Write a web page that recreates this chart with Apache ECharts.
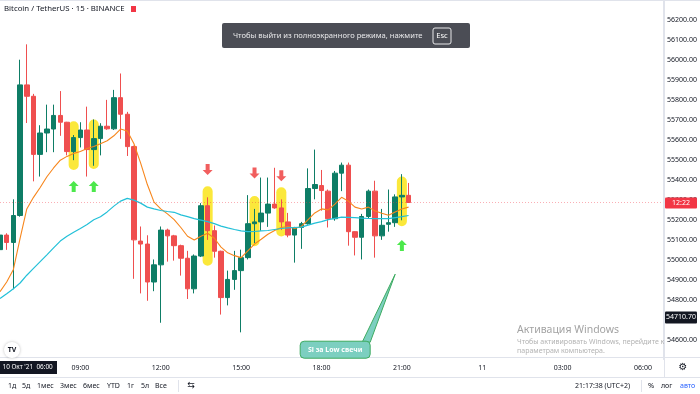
<!DOCTYPE html>
<html><head><meta charset="utf-8">
<script src="https://cdn.jsdelivr.net/npm/echarts@6/dist/echarts.min.js"></script>
<style>html,body{margin:0;padding:0;background:#fff}#c{width:700px;height:394px}</style>
</head><body><div id="c"></div>
<script>
// ---------- DATA ----------
// candles: [open, close, low, high], 15-minute bars starting 10 Oct '21 06:00
const ohlc = [
[55050,55123,55034,55254],[55123,55086,55049,55132],[55086,55221,54852,55302],[55221,55875,55215,56001],
[55875,55818,55684,56078],[55818,55527,55392,55830],[55527,55634,55416,55673],[55634,55654,55538,55776],
[55654,55722,55538,55776],[55722,55688,55620,55844],[55688,55541,55522,55690],[55541,55611,55498,55624],
[55611,55649,55562,55688],[55649,55551,55416,55766],[55551,55606,55470,55702],[55606,55668,55522,55683],
[55668,55655,55650,55800],[55655,55811,55649,55850],[55811,55728,55605,55932],[55728,55566,55519,55740],
[55566,55099,54904,55571],[55093,55078,54831,55166],[55078,54888,54794,55122],[54888,54974,54842,55001],
[54974,55148,54684,55166],[55148,55119,54990,55155],[55119,55070,54995,55124],[55070,55007,54920,55075],
[55007,54854,54803,55044],[54854,55018,54831,55026],[55018,55270,55013,55283],[55270,55145,55099,55312],
[55145,55042,55010,55171],[55042,54810,54725,55045],[54810,54901,54771,54945],[54901,54945,54849,55044],
[54945,55010,54636,55050],[55010,55180,55001,55323],[55180,55189,55083,55254],[55189,55233,55145,55411],
[55233,55278,55164,55411],[55278,55259,55255,55460],[55259,55189,55148,55302],[55189,55123,55112,55234],
[55123,55161,54985,55164],[55161,55180,55054,55189],[55180,55356,55175,55457],[55356,55376,55302,55551],
[55371,55346,55245,55449],[55343,55205,55161,55351],[55205,55433,55195,55444],[55433,55473,55343,55486],
[55473,55140,55070,55486],[55140,55112,55021,55142],[55112,55216,55001,55229],[55216,55343,55205,55351],
[55343,55119,55010,55395],[55119,55172,55099,55254],[55177,55185,55140,55351],[55185,55314,55164,55327],
[55314,55322,55197,55428],[55322,55286,55286,55384]
];
// fast moving average (orange)
const maFast = [54839,54888,54951,55107,55254,55312,55361,55415,55459,55498,55517,55532,55541,55556,55566,55580,
55595,55620,55654,55644,55580,55483,55376,55288,55254,55229,55200,55161,55117,55098,55117,55132,55107,55063,
55034,55020,55010,55044,55078,55102,55127,55146,55161,55166,55156,55166,55200,55234,55254,55249,55278,55312,
55293,55263,55254,55263,55244,55232,55222,55239,55254,55263];
// slow moving average (cyan)
const maSlow = [54805,54829,54854,54883,54922,54956,54990,55024,55059,55093,55117,55137,55156,55176,55200,55215,
55239,55268,55293,55307,55298,55283,55263,55254,55246,55241,55237,55224,55215,55205,55198,55190,55180,55168,
55159,55151,55144,55140,55141,55144,55146,55151,55156,55159,55161,55163,55173,55183,55190,55200,55207,55213,
55212,55210,55208,55206,55205,55205,55205,55210,55215,55221];
// yellow highlighter marks: [candle index, top price, bottom price]
const highlights = [[11,55693,55449],[14,55702,55454],[31,55367,54969],[38,55319,55067],[42,55362,55116],[60,55416,55167]];
// arrows: [candle index, price]
const upArrows = [[11,55366],[14,55366],[60,55071]];
const downArrows = [[31,55451],[38,55434],[42,55420]];
const calloutTip = [59, 54927];
const calloutText = 'Sl за Low свечи';
const lastPrice = 55286;
const crossPrice = 54710.70;
const tickIndexes = [12,24,36,48,60,72,84,96];
const tickLabels = ['09:00','12:00','15:00','18:00','21:00','11','03:00','06:00'];
const totalSlots = 100;
const categories = [];
for (let i = 0; i < totalSlots; i++) {
  const m = 6*60 + 15*i, h = Math.floor(m/60)%24, mm = m%60;
  categories.push(String(h).padStart(2,'0') + ':' + String(mm).padStart(2,'0'));
}
// ---------- CHART ----------
const FONT = 'Noto Sans';
const UP = '#0e7d66', DOWN = '#ef4f4f';
const chart = echarts.init(document.getElementById('c'), null, {renderer:'canvas'});
chart.setOption({
  animation:false,
  textStyle:{fontFamily:FONT},
  grid:{left:0, right:35.7, top:-9.5, bottom:34.5, containLabel:false},
  xAxis:{type:'category', data:categories, boundaryGap:false, z:100,
    axisLine:{show:false}, axisTick:{show:false}, splitLine:{show:false},
    axisLabel:{interval:(idx)=>tickIndexes.indexOf(idx)>=0, formatter:(v,idx)=>tickLabels[tickIndexes.indexOf(idx)],
      fontSize:7, color:'#131722', margin:5, fontFamily:FONT}},
  yAxis:{type:'value', position:'right', min:54500, max:56300, interval:100, scale:true,
    axisLine:{show:true, lineStyle:{color:'#e0e3eb'}}, axisTick:{show:false}, splitLine:{show:false},
    axisLabel:{formatter:(v)=>v.toFixed(2), fontSize:7, color:'#131722', margin:4, showMinLabel:false, showMaxLabel:false, fontFamily:FONT}},
  series:[
    {type:'custom', z:1, data:highlights, encode:{x:0, y:[1,2]},
      renderItem:(params, api)=>{
        const a = api.coord([api.value(0), api.value(1)]);
        const b = api.coord([api.value(0), api.value(2)]);
        const w = api.size([1,0])[0]*1.5;
        return {type:'rect', shape:{x:a[0]-w/2, y:a[1], width:w, height:b[1]-a[1], r:w/2}, style:{fill:'#fbe83b'}};
      }},
    {type:'candlestick', z:2, data:ohlc, barWidth:5,
      itemStyle:{color:UP, color0:DOWN, borderColor:UP, borderColor0:DOWN, borderWidth:1},
      markLine:{silent:true, symbol:'none', label:{show:false},
        lineStyle:{color:'rgba(242,54,69,0.4)', type:[1,2], width:1}, data:[{yAxis:lastPrice}]}},
    {type:'line', z:3, data:maFast, symbol:'none', smooth:false, lineStyle:{color:'#f7861c', width:1.1}},
    {type:'line', z:3, data:maSlow, symbol:'none', smooth:false, lineStyle:{color:'#22c0d8', width:1.2}},
    {type:'scatter', z:4, data:upArrows, symbol:'path://M5,0 L10,5 L7,5 L7,11 L3,11 L3,5 L0,5 Z', symbolSize:[10,11],
      itemStyle:{color:'#1fe21f'}},
    {type:'scatter', z:4, data:downArrows, symbol:'path://M3,0 L7,0 L7,6 L10,6 L5,11 L0,6 L3,6 Z', symbolSize:[10,11],
      itemStyle:{color:'#ee3636'}}
  ]
});
// ---------- ANNOTATIONS / UI ----------
const tip = chart.convertToPixel({xAxisIndex:0, yAxisIndex:0}, calloutTip);
const yLast = chart.convertToPixel({yAxisIndex:0}, lastPrice);
const yCross = chart.convertToPixel({yAxisIndex:0}, crossPrice);
const bx = tip[0]-95, by = tip[1]+67;
const g = [];
g.push({type:'line', shape:{x1:0,y1:0.5,x2:700,y2:0.5}, style:{stroke:'#e0e3eb', lineWidth:1}, z:50});
g.push({type:'line', shape:{x1:0,y1:357.5,x2:700,y2:357.5}, style:{stroke:'#e0e3eb', lineWidth:1}, z:50});
g.push({type:'line', shape:{x1:0,y1:377.5,x2:700,y2:377.5}, style:{stroke:'#e0e3eb', lineWidth:1}, z:50});
g.push({type:'line', shape:{x1:664.5,y1:0,x2:664.5,y2:378}, style:{stroke:'#e0e3eb', lineWidth:1}, z:50});
g.push({type:'text', x:4, y:9, style:{text:'Bitcoin / TetherUS · 15 · BINANCE', fill:'#131722', font:'7.8px "Noto Sans"', textVerticalAlign:'middle'}, z:60});
g.push({type:'rect', shape:{x:131, y:6, width:5, height:6}, style:{fill:'#f23645'}, z:60});
g.push({type:'rect', shape:{x:222, y:23, width:248, height:25, r:2}, style:{fill:'rgba(60,62,70,0.92)'}, z:60});
g.push({type:'text', x:233, y:36, style:{text:'Чтобы выйти из полноэкранного режима, нажмите', fill:'#e8e8ea', font:'7.6px "Noto Sans"', textVerticalAlign:'middle'}, z:61});
g.push({type:'rect', shape:{x:433, y:28, width:18, height:16, r:2}, style:{fill:'none', stroke:'#e8e8ea', lineWidth:1}, z:61});
g.push({type:'text', x:442, y:36, style:{text:'Esc', fill:'#ffffff', font:'7.6px "Noto Sans"', textAlign:'center', textVerticalAlign:'middle'}, z:61});
g.push({type:'rect', shape:{x:665, y:yLast-5, width:32, height:11, r:1}, style:{fill:'#f23645'}, z:60});
g.push({type:'text', x:681, y:yLast+0.5, style:{text:'12:22', fill:'#ffffff', font:'7px "Noto Sans"', textAlign:'center', textVerticalAlign:'middle'}, z:61});
g.push({type:'rect', shape:{x:665, y:yCross-6, width:32, height:12, r:1}, style:{fill:'#131722'}, z:60});
g.push({type:'text', x:681, y:yCross, style:{text:'54710.70', fill:'#ffffff', font:'7px "Noto Sans"', textAlign:'center', textVerticalAlign:'middle'}, z:61});
g.push({type:'rect', shape:{x:0, y:361, width:57, height:13}, style:{fill:'#131722'}, z:110});
g.push({type:'text', x:2.5, y:367.5, style:{text:"10 Окт '21  06:00", fill:'#ffffff', font:'6.4px "Noto Sans"', textVerticalAlign:'middle'}, z:111});
g.push({type:'text', x:683, y:367, style:{text:'⚙', fill:'#131722', font:'10px "DejaVu Sans"', textAlign:'center', textVerticalAlign:'middle'}, z:60});
g.push({type:'circle', shape:{cx:12, cy:350, r:8}, style:{fill:'#ffffff', shadowBlur:3, shadowColor:'rgba(0,0,0,0.25)'}, z:60});
g.push({type:'text', x:12, y:350, style:{text:'TV', fill:'#131722', font:'bold 7px "Noto Sans"', textAlign:'center', textVerticalAlign:'middle'}, z:61});
g.push({type:'polygon', shape:{points:[[tip[0],tip[1]],[bx+62,by+1],[bx+70,by+1]]}, style:{fill:'#7ccfc0', stroke:'#3daa60', lineWidth:1}, z:70});
g.push({type:'rect', shape:{x:bx, y:by, width:70, height:17, r:4}, style:{fill:'#7ccfc0', stroke:'#3daa60', lineWidth:1}, z:71});
g.push({type:'text', x:bx+35, y:by+8.5, style:{text:calloutText, fill:'#ffffff', font:'bold 7px "Noto Sans"', textAlign:'center', textVerticalAlign:'middle'}, z:72});
g.push({type:'text', x:517, y:330, style:{text:'Активация Windows', fill:'#a3a3a3', font:'10.5px "Noto Sans"', textVerticalAlign:'middle'}, z:80});
g.push({type:'text', x:517, y:341.5, style:{text:'Чтобы активировать Windows, перейдите к', fill:'#b3b3b3', font:'7px "Noto Sans"', textVerticalAlign:'middle'}, z:80});
g.push({type:'text', x:517, y:351, style:{text:'параметрам компьютера.', fill:'#b3b3b3', font:'7px "Noto Sans"', textVerticalAlign:'middle'}, z:80});
const tb = [['1д',8],['5д',22],['1мес',37],['3мес',60],['6мес',83],['YTD',107],['1г',127],['5л',141],['Все',155]];
tb.forEach(([t,x])=>g.push({type:'text', x:x, y:386, style:{text:t, fill:'#131722', font:'7px "Noto Sans"', textVerticalAlign:'middle'}, z:60}));
g.push({type:'line', shape:{x1:178.5,y1:380,x2:178.5,y2:392}, style:{stroke:'#e0e3eb', lineWidth:1}, z:60});
g.push({type:'text', x:191, y:386, style:{text:'⇆', fill:'#131722', font:'9px "DejaVu Sans"', textAlign:'center', textVerticalAlign:'middle'}, z:60});
g.push({type:'text', x:575, y:386, style:{text:'21:17:38 (UTC+2)', fill:'#131722', font:'7px "Noto Sans"', textVerticalAlign:'middle'}, z:60});
g.push({type:'line', shape:{x1:641.5,y1:380,x2:641.5,y2:392}, style:{stroke:'#e0e3eb', lineWidth:1}, z:60});
g.push({type:'text', x:648, y:386, style:{text:'%', fill:'#131722', font:'7.5px "Noto Sans"', textVerticalAlign:'middle'}, z:60});
g.push({type:'text', x:661, y:386, style:{text:'лог', fill:'#131722', font:'7px "Noto Sans"', textVerticalAlign:'middle'}, z:60});
g.push({type:'text', x:680, y:386, style:{text:'авто', fill:'#2962ff', font:'7px "Noto Sans"', textVerticalAlign:'middle'}, z:60});
chart.setOption({graphic:{elements:g}});
</script></body></html>
